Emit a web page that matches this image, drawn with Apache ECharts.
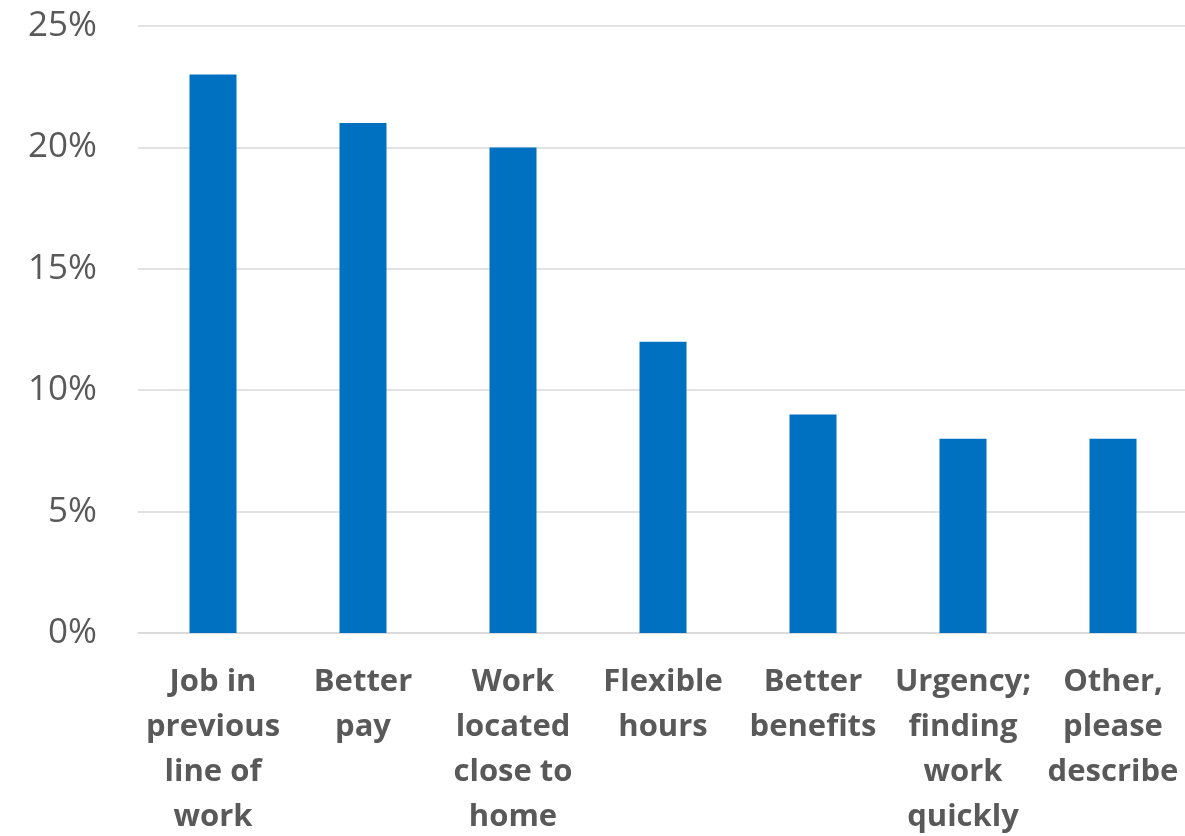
<!DOCTYPE html>
<html>
<head>
<meta charset="utf-8">
<script src="https://cdn.jsdelivr.net/npm/echarts@6/dist/echarts.min.js"></script>
<style>
html,body{margin:0;padding:0;background:#fff;}
#chart{width:1185px;height:836px;}
</style>
</head>
<body>
<div id="chart"></div>
<script>
const categories = [
  "Job in\nprevious\nline of\nwork",
  "Better\npay",
  "Work\nlocated\nclose to\nhome",
  "Flexible\nhours",
  "Better\nbenefits",
  "Urgency;\nfinding\nwork\nquickly",
  "Other,\nplease\ndescribe"
];
const values = [23, 21, 20, 12, 9, 8, 8];

const chart = echarts.init(document.getElementById('chart'), null, {renderer: 'canvas'});
chart.setOption({
  animation: false,
  grid: {left: 138, top: 26, width: 1050, height: 607, containLabel: false, outerBoundsMode: 'none'},
  xAxis: {
    type: 'category',
    data: categories,
    axisLine: {show: true, lineStyle: {color: '#d9d9d9', width: 1.5}},
    axisTick: {show: false},
    axisLabel: {
      interval: 0,
      margin: 27,
      color: '#595959',
      fontFamily: 'Open Sans',
      fontWeight: 'bold',
      fontSize: 31,
      lineHeight: 45,
      align: 'center',
      verticalAlign: 'top'
    }
  },
  yAxis: {
    type: 'value',
    min: 0,
    max: 25,
    interval: 5,
    axisLine: {show: false},
    axisTick: {show: false},
    splitLine: {lineStyle: {color: '#d9d9d9', width: 1.5}},
    axisLabel: {
      formatter: '{value}%',
      margin: 41,
      color: '#595959',
      fontFamily: 'Open Sans',
      fontSize: 35
    }
  },
  series: [{
    type: 'bar',
    data: values,
    barWidth: 47,
    itemStyle: {color: '#0070C0'}
  }]
});
</script>
</body>
</html>
